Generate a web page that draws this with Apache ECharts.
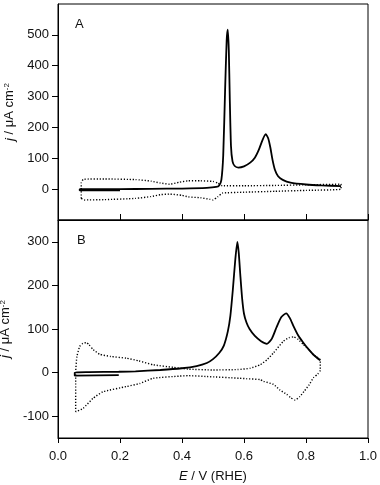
<!DOCTYPE html>
<html>
<head>
<meta charset="utf-8">
<script src="https://cdn.jsdelivr.net/npm/echarts@6/dist/echarts.min.js"></script>
<style>html,body{margin:0;padding:0;background:#fff}#c{width:380px;height:485px}</style>
</head>
<body>
<div id="c"></div>
<script>
// Panel A, solid curve
var aSolidE = [0.20,0.07,0.07,0.20,0.30,0.40,0.48,0.51,0.52,0.527,0.533,0.539,0.544,0.5475,0.551,0.554,0.558,0.563,0.570,0.582,0.600,0.620,0.635,0.648,0.660,0.670,0.678,0.685,0.692,0.700,0.710,0.725,0.750,0.800,0.850,0.913];
var aSolidJ = [-4,-4,0,0,1,2,4,7,12,30,110,320,480,517,450,300,140,90,75,70,74,86,102,128,160,178,165,135,95,62,42,30,21,15,12,10];
// Panel A, dotted curve
var aDotE = [0.075,0.075,0.082,0.15,0.25,0.30,0.33,0.36,0.39,0.42,0.46,0.50,0.515,0.53,0.60,0.70,0.80,0.913,0.913,0.80,0.70,0.60,0.53,0.515,0.50,0.49,0.46,0.42,0.40,0.36,0.33,0.30,0.25,0.15,0.085,0.075];
var aDotJ = [-30,20,32,33,31,26,20,16,22,27,27,25,20,11,11,12,14,16,0,-4,-7,-10,-13,-25,-35,-33,-28,-25,-20,-16,-18,-24,-30,-34,-35,-30];
// Panel B, solid curve
var bSolidE = [0.196,0.054,0.054,0.10,0.196,0.25,0.33,0.40,0.447,0.48,0.50,0.52,0.535,0.548,0.556,0.564,0.572,0.5786,0.583,0.588,0.594,0.600,0.608,0.618,0.635,0.655,0.674,0.690,0.705,0.720,0.736,0.748,0.760,0.775,0.792,0.810,0.824,0.846];
var bSolidJ = [-6,-7,0,1,2,3,6,10,15,22,31,45,62,95,130,190,260,300,275,225,170,135,115,100,84,72,66,78,104,127,136,125,106,85,68,52,41,28];
// Panel B, dotted curve
var bDotE = [0.057,0.057,0.061,0.070,0.080,0.092,0.100,0.113,0.135,0.17,0.221,0.26,0.307,0.372,0.42,0.50,0.58,0.62,0.652,0.675,0.695,0.727,0.745,0.760,0.775,0.792,0.810,0.824,0.846,0.846,0.838,0.824,0.810,0.795,0.780,0.765,0.750,0.738,0.716,0.695,0.663,0.652,0.609,0.587,0.48,0.42,0.393,0.307,0.264,0.221,0.145,0.113,0.081,0.057];
var bDotJ = [-90,0,37,60,67,69,64,53,42,37,33,27,18,12,8,6,7,10,18,30,45,72,80,82,76,64,52,41,29,5,-3,-12,-28,-42,-55,-63,-57,-50,-40,-27,-20,-16,-14,-13,-9,-7,-8,-13,-25,-32,-44,-59,-82,-90];
// Axis ticks
var xTicks = [0.0,0.2,0.4,0.6,0.8,1.0];
var aYTicks = [0,100,200,300,400,500];
var bYTicks = [-100,0,100,200,300];

function zip(x, y) { return x.map(function (v, i) { return [v, y[i]]; }); }

var FONT = 'Liberation Sans, Arial, sans-serif';
var TXT = '#111';
var chart = echarts.init(document.getElementById('c'), null, {renderer: 'canvas'});

function yName() {
  return {
    name: '{i|j} / μA cm{s|-2}',
    nameLocation: 'middle',
    nameRotate: 90,
    nameGap: 36,
    nameTextStyle: {
      fontFamily: FONT, fontSize: 13, color: TXT,
      rich: {
        i: {fontFamily: FONT, fontSize: 13, fontStyle: 'italic', color: TXT},
        s: {fontFamily: FONT, fontSize: 8, color: TXT, verticalAlign: 'top', padding: [0, 0, 6, 0]}
      }
    }
  };
}

var option = {
  animation: false,
  backgroundColor: '#fff',
  grid: [
    {left: 58, top: 4, right: 12, height: 216, show: true, borderColor: '#000', borderWidth: 1, backgroundColor: 'transparent', containLabel: false, outerBoundsMode: 'none'},
    {left: 58, top: 220, right: 12, height: 218, show: true, borderColor: '#000', borderWidth: 1, backgroundColor: 'transparent', containLabel: false, outerBoundsMode: 'none'}
  ],
  xAxis: [
    {
      gridIndex: 0, type: 'value', min: 0, max: 1, interval: 0.2,
      axisLine: {onZero: false, lineStyle: {color: '#000', width: 1}},
      axisTick: {inside: true, length: 6, lineStyle: {color: '#000'}},
      axisLabel: {show: false},
      splitLine: {show: false}
    },
    {
      gridIndex: 1, type: 'value', min: 0, max: 1, interval: 0.2,
      axisLine: {onZero: false, lineStyle: {color: '#000', width: 1}},
      axisTick: {length: 5, lineStyle: {color: '#000'}, customValues: xTicks},
      axisLabel: {customValues: xTicks, margin: 12, fontFamily: FONT, fontSize: 13, color: TXT,
        formatter: function (v) { return v.toFixed(1); }},
      splitLine: {show: false},
      name: '{i|E} / V (RHE)',
      nameLocation: 'middle',
      nameGap: 32,
      nameTextStyle: {fontFamily: FONT, fontSize: 13, color: TXT,
        rich: {i: {fontFamily: FONT, fontSize: 13, fontStyle: 'italic', color: TXT}}}
    }
  ],
  yAxis: [
    Object.assign({
      gridIndex: 0, type: 'value', min: -100, max: 600,
      axisLine: {show: true, onZero: false, lineStyle: {color: '#000', width: 1}},
      axisTick: {show: true, length: 6, lineStyle: {color: '#000'}, customValues: aYTicks},
      axisLabel: {customValues: aYTicks, margin: 9, fontFamily: FONT, fontSize: 13, color: TXT},
      splitLine: {show: false}
    }, yName()),
    Object.assign({
      gridIndex: 1, type: 'value', min: -150, max: 350,
      axisLine: {show: true, onZero: false, lineStyle: {color: '#000', width: 1}},
      axisTick: {show: true, length: 6, lineStyle: {color: '#000'}, customValues: bYTicks},
      axisLabel: {customValues: bYTicks, margin: 9, fontFamily: FONT, fontSize: 13, color: TXT},
      splitLine: {show: false}
    }, yName())
  ],
  graphic: [
    {type: 'text', left: 75, top: 18, style: {text: 'A', fontFamily: FONT, fontSize: 13, fill: TXT}},
    {type: 'text', left: 77, top: 234, style: {text: 'B', fontFamily: FONT, fontSize: 13, fill: TXT}}
  ],
  series: [
    {type: 'line', xAxisIndex: 0, yAxisIndex: 0, data: zip(aDotE, aDotJ), showSymbol: false, smooth: 0.15,
      lineStyle: {color: '#000', width: 1.4, type: [1.2, 1.8]}},
    {type: 'line', xAxisIndex: 0, yAxisIndex: 0, data: zip(aSolidE, aSolidJ), showSymbol: false, smooth: 0.2,
      lineStyle: {color: '#000', width: 1.8}},
    {type: 'line', xAxisIndex: 1, yAxisIndex: 1, data: zip(bDotE, bDotJ), showSymbol: false, smooth: 0.15,
      lineStyle: {color: '#000', width: 1.4, type: [1.2, 1.8]}},
    {type: 'line', xAxisIndex: 1, yAxisIndex: 1, data: zip(bSolidE, bSolidJ), showSymbol: false, smooth: 0.2,
      lineStyle: {color: '#000', width: 1.8}}
  ]
};
chart.setOption(option);
</script>
</body>
</html>
